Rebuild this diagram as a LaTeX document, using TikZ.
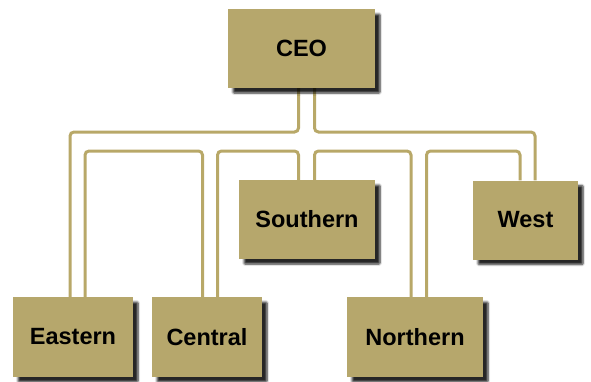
\documentclass[tikz,border=0pt]{standalone}
\usepackage{fontspec}
\setmainfont{Liberation Sans}
\usetikzlibrary{shadows.blur,calc}
\pgfdeclarelayer{background}
\pgfsetlayers{background,main}
\definecolor{gold}{RGB}{182,167,108}
\definecolor{goldline}{RGB}{184,168,104}
\tikzset{
  unit/.style={fill=gold, inner sep=0pt, minimum height=79pt,
    font=\bfseries\fontsize{23.5}{26}\selectfont, text=black,
    blur shadow={shadow xshift=5pt, shadow yshift=-5pt,
      shadow blur steps=6, shadow blur extra rounding=1pt, shadow opacity=85}},
  tube/.style={draw=goldline, line width=3pt, rounded corners=4pt}
}
\begin{document}
\begin{tikzpicture}[x=1pt, y=-1pt]
  \useasboundingbox (0,0) rectangle (591,381);
  \coordinate (busO) at (0,132);
  \coordinate (busI) at (0,151);

  % boxes
  \node[unit, minimum width=147pt] (ceo)      at (301.5,48.5) {CEO};
  \node[unit, minimum width=136pt] (southern) at (307,219.5)  {Southern};
  \node[unit, minimum width=105pt] (west)     at (525.5,220)  {West};
  \node[unit, minimum width=120pt, minimum height=80pt] (eastern)  at (73,337)  {Eastern};
  \node[unit, minimum width=110pt, minimum height=80pt] (central)  at (207,337) {Central};
  \node[unit, minimum width=136pt, minimum height=80pt] (northern) at (415,337) {Northern};

  % double-line connectors, behind the boxes
  \begin{pgfonlayer}{background}
    \draw[tube] ([xshift=-3pt]ceo.south) -- ([xshift=-3pt]ceo.south |- busO)
      -| ([xshift=-3pt]eastern.north);
    \draw[tube] ([xshift=12pt]eastern.north) -- ([xshift=12pt]eastern.north |- busI)
      -- ([xshift=-4.5pt]central.north |- busI) -- ([xshift=-4.5pt]central.north);
    \draw[tube] ([xshift=10.5pt]central.north) -- ([xshift=10.5pt]central.north |- busI)
      -- ([xshift=-8.5pt]southern.north |- busI) -- ([xshift=-8.5pt]southern.north);
    \draw[tube] ([xshift=7.5pt]southern.north) -- ([xshift=7.5pt]southern.north |- busI)
      -- ([xshift=-4pt]northern.north |- busI) -- ([xshift=-4pt]northern.north);
    \draw[tube] ([xshift=11.5pt]northern.north) -- ([xshift=11.5pt]northern.north |- busI)
      -- ([xshift=-5.5pt]west.north |- busI) -- ([xshift=-5.5pt]west.north);
    \draw[tube] ([xshift=13pt]ceo.south) -- ([xshift=13pt]ceo.south |- busO)
      -| ([xshift=9.5pt]west.north);
  \end{pgfonlayer}
\end{tikzpicture}
\end{document}
